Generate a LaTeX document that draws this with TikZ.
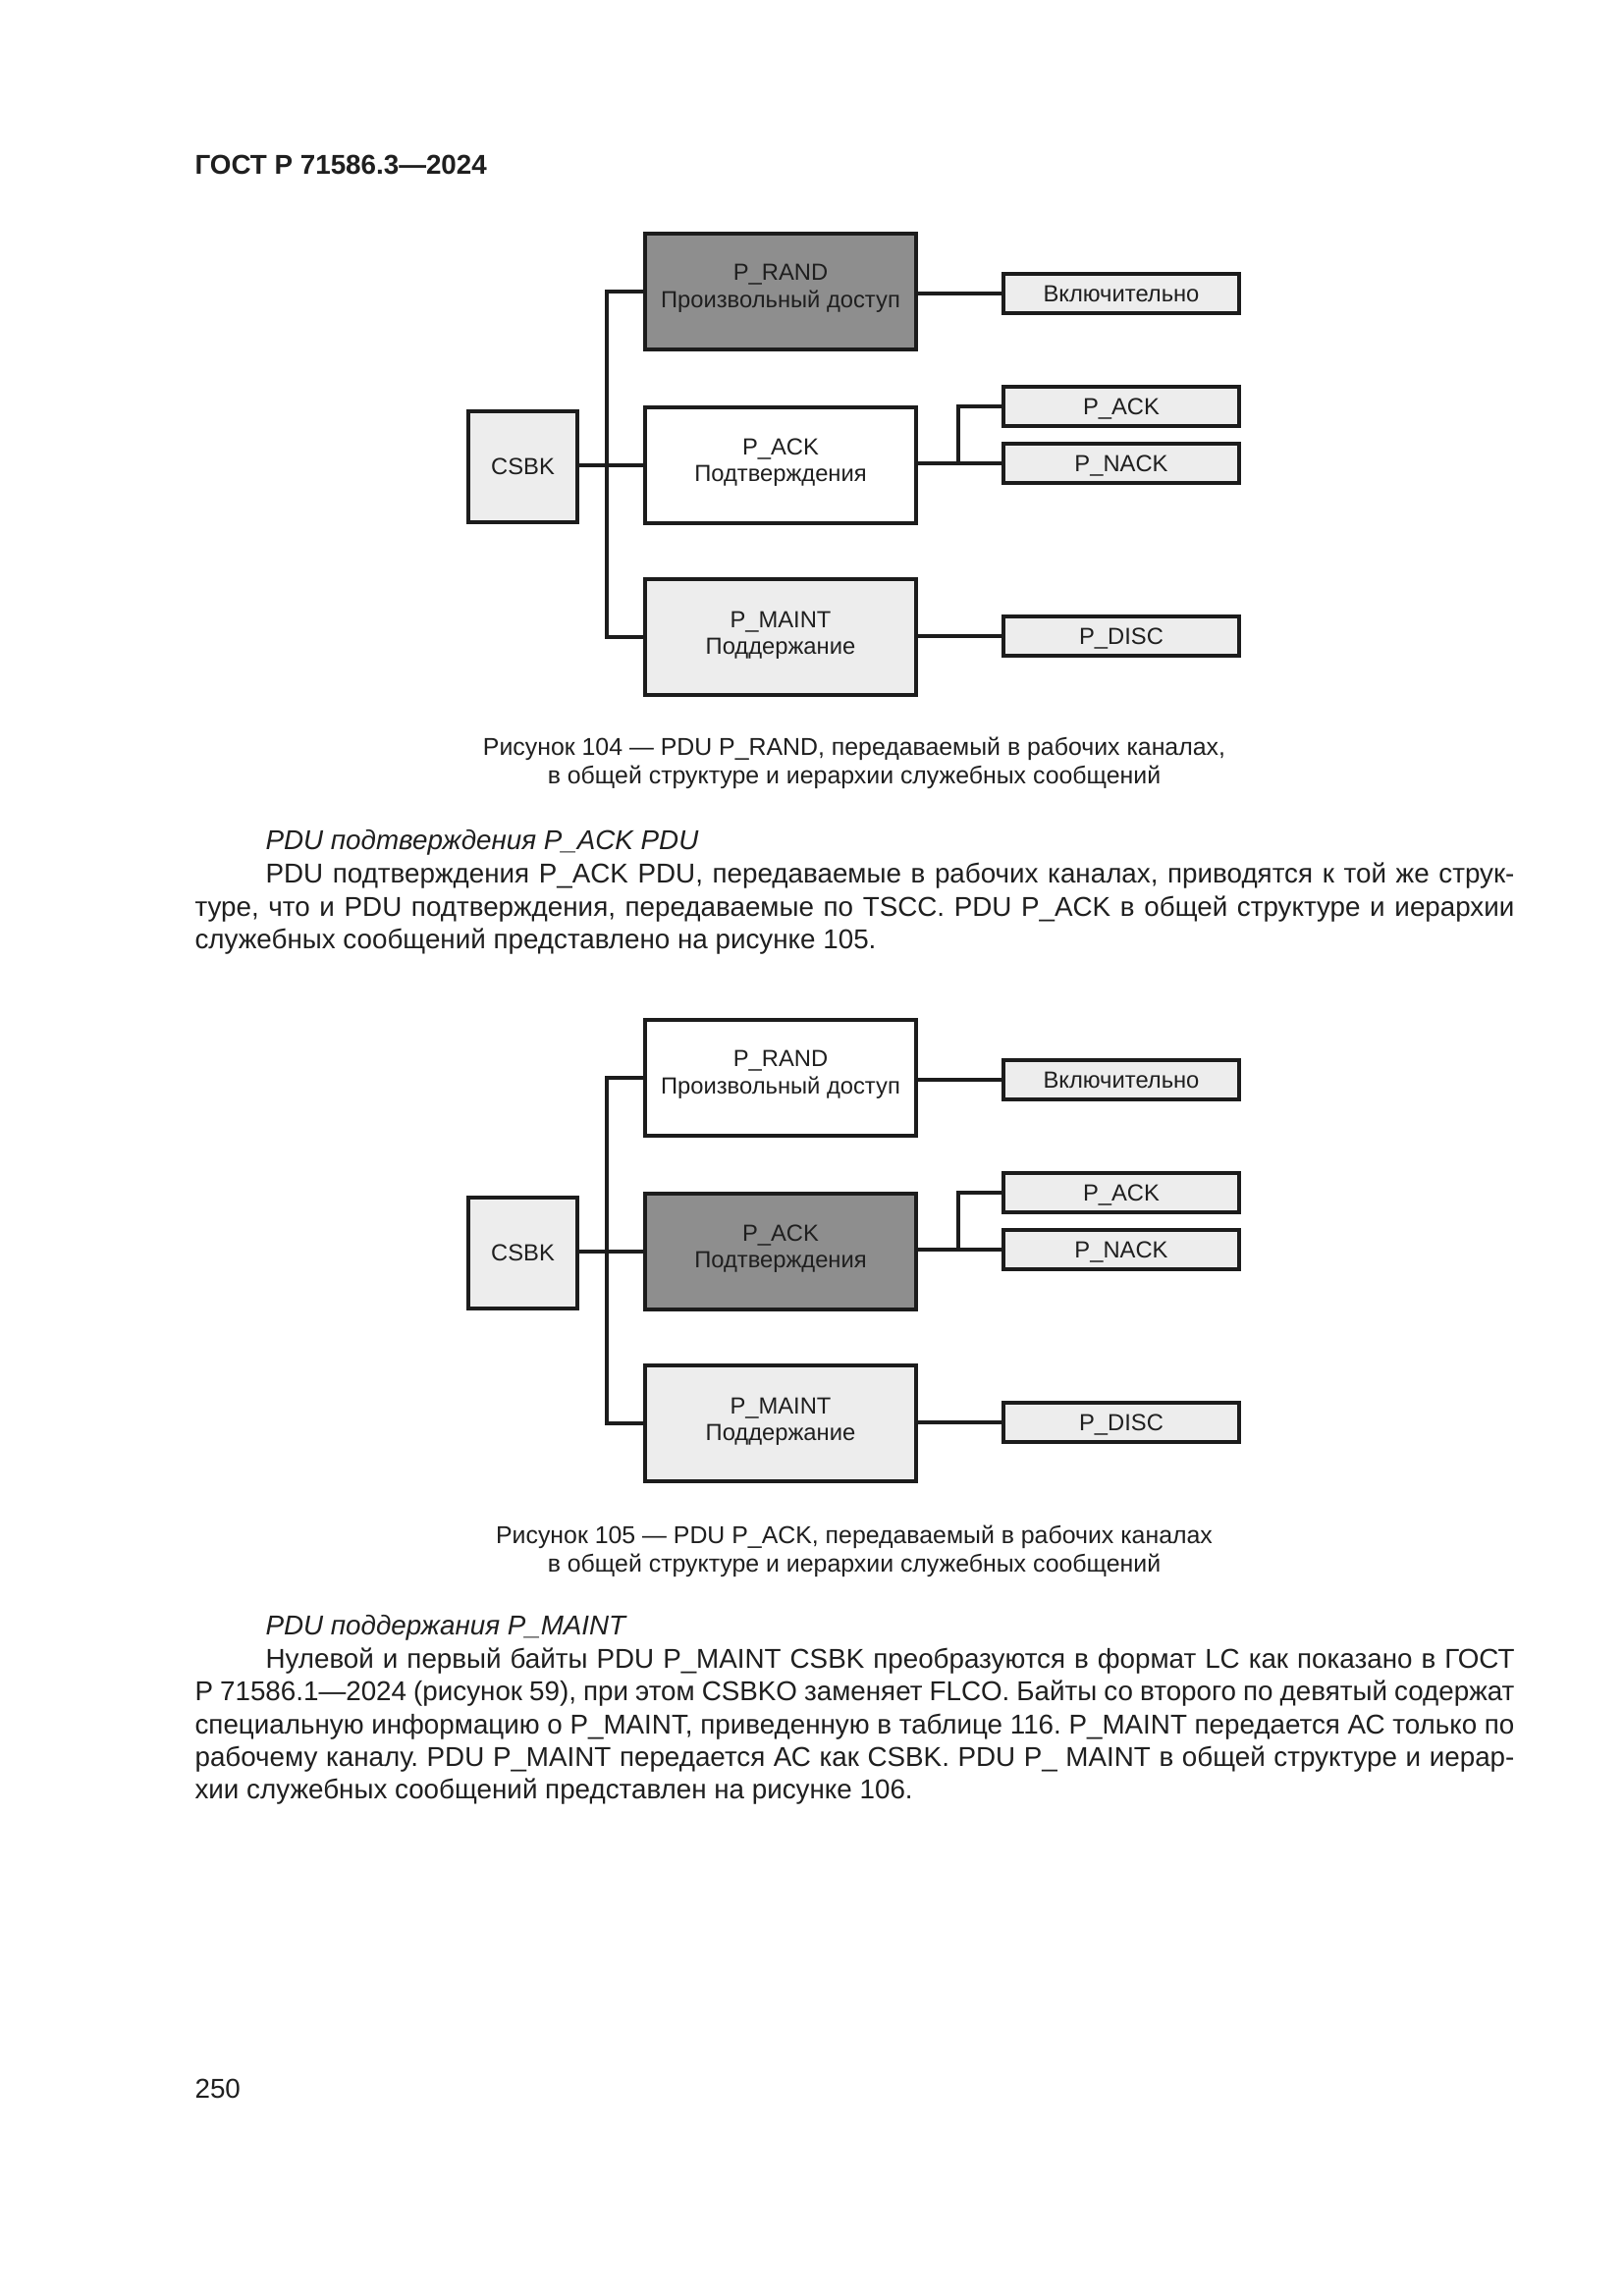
\documentclass[tikz,border=0pt]{standalone}
\usepackage{fontspec}
\setmainfont{Liberation Sans}
\definecolor{darkfill}{HTML}{8E8E8E}
\definecolor{lightfill}{HTML}{EDEDED}
\definecolor{ink}{HTML}{1C1C1C}
\newcommand\gostdiagram[4]{%
\begin{scope}[shift={(0,#2)}]
\node[box, fill=lightfill, minimum width=39.95pt, minimum height=40.67pt] (#1csbk) at (532.5,475.5) {CSBK};
\node[big, fill=#3] (#1rand) at (795,297) {};
\node[bigtext] (#1randt) at (#1rand.center) {P\_RAND\\Произвольный доступ};
\node[big, fill=#4] (#1ack) at (795,474) {};
\node[bigtext] (#1ackt) at (#1ack.center) {P\_ACK\\Подтверждения};
\node[big, fill=lightfill] (#1maint) at (795,649) {};
\node[bigtext, yshift=-0.4pt] (#1maintt) at (#1maint.center) {P\_MAINT\\Поддержание};
\node[small, fill=lightfill] (#1incl) at (1142,299) {Включительно};
\node[small, fill=lightfill] (#1sack) at (1142,414) {P\_ACK};
\node[small, fill=lightfill] (#1snack) at (1142,472) {P\_NACK};
\node[small, fill=lightfill] (#1disc) at (1142,648) {P\_DISC};
\coordinate (#1tr) at (618,474);
\coordinate (#1sp) at (976,472);
\draw[lnk] (#1csbk.east |- #1tr) -- (#1ack.west |- #1tr);
\draw[lnk] (#1rand.west) -| (#1tr);
\draw[lnk] (#1maint.west) -| (#1tr);
\draw[lnk] (#1rand.east |- #1incl) -- (#1incl.west);
\draw[lnk] (#1ack.east |- #1snack) -- (#1snack.west);
\draw[lnk] (#1sp) |- (#1sack.west);
\draw[lnk] (#1maint.east |- #1disc) -- (#1disc.west);
\end{scope}}
\newcommand\bodyfont{\fontsize{10}{12}\selectfont\frenchspacing\spaceskip=0.278em plus 0.6em minus 0.2em\relax}
\begin{document}
\begin{tikzpicture}[x=0.35992pt,y=-0.35992pt,
  box/.style={draw=ink, line width=1.45pt, inner sep=0pt, align=center,
    font=\fontsize{8.55}{9.9}\selectfont, text=black!88},
  big/.style={box, minimum width=99.3pt, minimum height=42.5pt},
  bigtext/.style={inner sep=0pt, align=center, yshift=1.1pt,
    font=\fontsize{8.55}{9.9}\selectfont, text=black!88},
  small/.style={box, minimum width=86.4pt, minimum height=14.4pt, text height=6.2pt, text depth=0.3pt},
  lnk/.style={draw=ink, line width=1.45pt, line join=miter},
  bodyline/.style={anchor=base west, inner sep=0pt, font=\bodyfont, text=black!88},
  capline/.style={anchor=base, inner sep=0pt, font=\fontsize{8.95}{11}\selectfont, text=black!88}]
\fill[white] (0,0) rectangle (1654,2339);
\useasboundingbox (0,0) rectangle (1654,2339);

\node[bodyline, font=\bfseries\fontsize{10}{12}\selectfont] (hdr) at (198,177) {ГОСТ Р 71586.3—2024};

\gostdiagram{a}{0}{darkfill}{white}

\node[capline] (cap1a) at (870,769) {Рисунок 104 — PDU P\_RAND, передаваемый в рабочих каналах,};
\node[capline] (cap1b) at (870,798) {в общей структуре и иерархии служебных сообщений};

\node[bodyline, font=\itshape\bodyfont] (p1a) at (270,865) {PDU подтверждения P\_ACK PDU};
\node[bodyline] (p1b) at (270,899) {\makebox[457.8pt][s]{PDU подтверждения P\_ACK PDU, передаваемые в рабочих каналах, приводятся к той же струк-}};
\node[bodyline] (p1c) at (198,933) {\makebox[483.7pt][s]{туре, что и PDU подтверждения, передаваемые по TSCC. PDU P\_ACK в общей структуре и иерархии}};
\node[bodyline] (p1d) at (198,966) {служебных сообщений представлено на рисунке 105.};

\gostdiagram{b}{801}{white}{darkfill}

\node[capline] (cap2a) at (870,1572) {Рисунок 105 — PDU P\_ACK, передаваемый в рабочих каналах};
\node[capline] (cap2b) at (870,1601) {в общей структуре и иерархии служебных сообщений};

\node[bodyline, font=\itshape\bodyfont] (p2a) at (270,1665) {PDU поддержания P\_MAINT};
\node[bodyline] (p2b) at (270,1699) {\makebox[457.8pt][s]{Нулевой и первый байты PDU P\_MAINT CSBK преобразуются в формат LC как показано в ГОСТ}};
\node[bodyline] (p2c) at (198,1732) {\makebox[483.7pt][s]{Р 71586.1—2024 (рисунок 59), при этом CSBKO заменяет FLCO. Байты со второго по девятый содержат}};
\node[bodyline] (p2d) at (198,1766) {\makebox[483.7pt][s]{специальную информацию о P\_MAINT, приведенную в таблице 116. P\_MAINT передается АС только по}};
\node[bodyline] (p2e) at (198,1799) {\makebox[483.7pt][s]{рабочему каналу. PDU P\_MAINT передается АС как CSBK. PDU P\_ MAINT в общей структуре и иерар-}};
\node[bodyline] (p2f) at (198,1832) {хии служебных сообщений представлен на рисунке 106.};

\node[bodyline] (pg) at (198,2137) {250};
\end{tikzpicture}
\end{document}
